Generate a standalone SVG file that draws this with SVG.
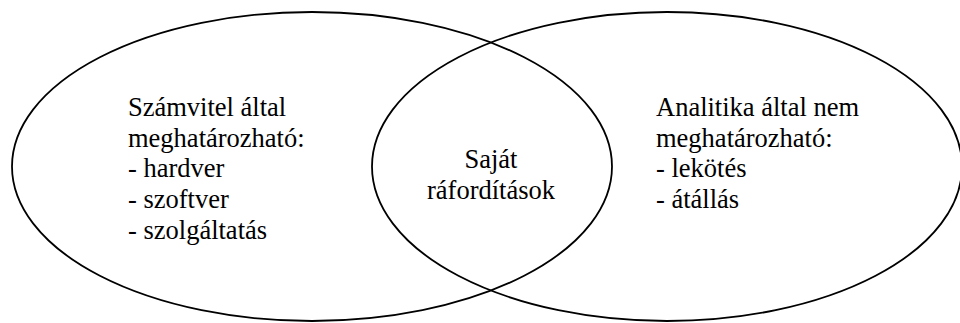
<svg xmlns="http://www.w3.org/2000/svg" width="960" height="323" viewBox="0 0 960 323" font-family="Liberation Serif, Times New Roman, serif">
<style>
.e{fill:none;stroke:#000;stroke-width:1.8}
.t{font-family:'Liberation Serif','Times New Roman',serif;font-size:26.5px;fill:#000}
</style>
<rect width="960" height="323" fill="#fff"/>
<g id="set-left">
<ellipse class="e" cx="312" cy="166.5" rx="300" ry="154.5"/>
<text class="t" x="128" y="116">Számvitel által</text>
<text class="t" x="128" y="146.7">meghatározható:</text>
<text class="t" x="128" y="177.4">- hardver</text>
<text class="t" x="128" y="208">- szoftver</text>
<text class="t" x="128" y="238.8">- szolgáltatás</text>
</g>
<g id="set-right">
<ellipse class="e" cx="667" cy="166.5" rx="295" ry="154.5"/>
<text class="t" x="656" y="116">Analitika által nem</text>
<text class="t" x="656" y="146.7">meghatározható:</text>
<text class="t" x="656" y="177.4">- lekötés</text>
<text class="t" x="656" y="208">- átállás</text>
</g>
<g id="intersection">
<text class="t" x="491" y="168" text-anchor="middle">Saját</text>
<text class="t" x="491" y="198.7" text-anchor="middle">ráfordítások</text>
</g>
<g id="connectors"></g>
</svg>
